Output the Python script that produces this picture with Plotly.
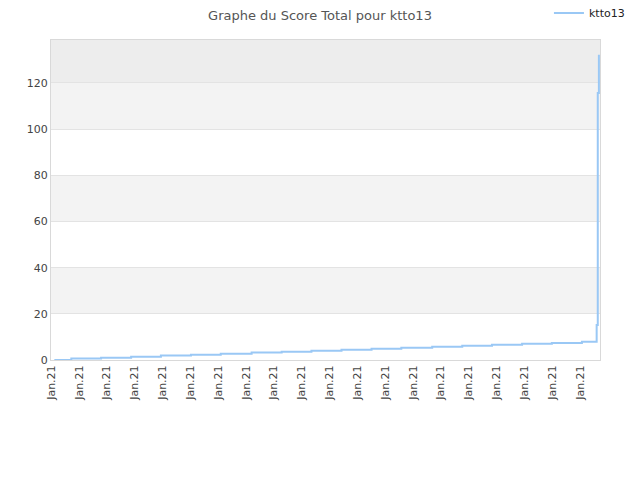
import plotly.graph_objs as go

# positions des paliers (1 unite = ecart entre deux graduations)
step_x = [0.11, 0.72, 1.79, 2.87, 3.94, 5.02, 6.09, 7.20, 8.28, 9.35,
          10.43, 11.51, 12.58, 13.69, 14.77, 15.84, 16.92, 17.99, 19.07,
          19.60, 19.64, 19.68]
score = [0.0, 0.6, 1.0, 1.4, 1.9, 2.3, 2.7, 3.2, 3.6, 4.0,
         4.4, 4.9, 5.3, 5.7, 6.2, 6.6, 7.0, 7.4, 7.9,
         15.2, 115.6, 132.2]

tick_pos = list(range(20))
tick_text = ['Jan.21'] * 20

band_low = [20, 60, 100]
band_high = [40, 80, 120]
top_band = [120, 138.6]

fig = go.Figure()
fig.add_trace(go.Scatter(x=step_x, y=score, mode='lines', name='ktto13',
                         line=dict(color='#9ac8f5', width=2, shape='hv')))

for lo, hi in zip(band_low, band_high):
    fig.add_shape(type='rect', xref='paper', yref='y', x0=0, x1=1, y0=lo, y1=hi,
                  fillcolor='#f3f3f3', line_width=0, layer='below')
fig.add_shape(type='rect', xref='paper', yref='y', x0=0, x1=1,
              y0=top_band[0], y1=top_band[1],
              fillcolor='#ededed', line_width=0, layer='below')

# la page ajoute 8px de marge au body : on compense
fig.update_layout(
    width=640, height=480,
    margin=dict(l=43, r=48, t=32, b=128, autoexpand=False),
    paper_bgcolor='white', plot_bgcolor='white',
    font=dict(family='DejaVu Sans', size=11, color='#444'),
    title=dict(text='Graphe du Score Total pour ktto13', x=(320 - 8) / 640,
               xanchor='center', y=1 - 3 / 480, yanchor='top', pad=dict(t=0),
               font=dict(size=13, color='#555')),
    showlegend=True,
    legend=dict(x=0.907, y=1.084, xanchor='left', yanchor='middle',
                itemwidth=30, bgcolor='rgba(0,0,0,0)',
                font=dict(size=11, color='#222')),
)
fig.update_xaxes(range=[-0.01, 19.72], tickmode='array', tickvals=tick_pos,
                 ticktext=tick_text, tickangle=-90, showgrid=False,
                 zeroline=False, showline=True, linecolor='#d9d9d9',
                 mirror=True, ticks='')
fig.update_yaxes(range=[0, top_band[1]], dtick=20, showgrid=True,
                 gridcolor='#e3e3e3', zeroline=False, showline=True,
                 linecolor='#d9d9d9', mirror=True, ticks='')

fig.write_html("out.html")
